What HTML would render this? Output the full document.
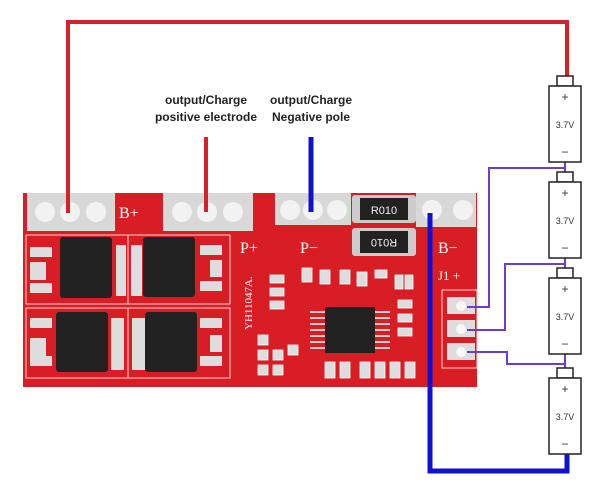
<!DOCTYPE html><html><head><style>body{margin:0;background:#fff}svg{display:block}</style></head><body>
<svg width="600" height="494" viewBox="0 0 600 494" xmlns="http://www.w3.org/2000/svg" font-family="Liberation Sans, sans-serif">
<polyline points="68,213 68,22 567,22 567,78" fill="none" stroke="#d8202a" stroke-width="4"/>
<polyline points="430,390 430,471 567,471 567,454" fill="none" stroke="#1010d0" stroke-width="5"/>
<line x1="206" y1="137" x2="206" y2="212" stroke="#d8202a" stroke-width="4"/>
<line x1="311" y1="137" x2="311" y2="212" stroke="#1010d0" stroke-width="5"/>
<text x="206" y="104" font-size="12" font-weight="bold" text-anchor="middle" fill="#222">output/Charge</text>
<text x="206" y="121" font-size="12" font-weight="bold" text-anchor="middle" fill="#222">positive electrode</text>
<text x="311" y="104" font-size="12" font-weight="bold" text-anchor="middle" fill="#222">output/Charge</text>
<text x="311" y="121" font-size="12" font-weight="bold" text-anchor="middle" fill="#222">Negative pole</text>
<rect x="23" y="193" width="454" height="194" fill="#d81e24"/>
<g fill="#d8d8d8">
<rect x="27" y="193" width="88" height="38"/><rect x="163" y="193" width="90" height="38"/><rect x="275" y="193" width="76" height="32"/><rect x="416" y="193" width="60" height="34"/>
</g>
<g fill="#f2f2f2">
<circle cx="45" cy="212" r="10"/><circle cx="70" cy="212" r="10"/><circle cx="96" cy="212" r="10"/>
<circle cx="182" cy="212" r="10"/><circle cx="207" cy="212" r="10"/><circle cx="233" cy="212" r="10"/>
<circle cx="290" cy="210" r="10"/><circle cx="313" cy="210" r="10"/><circle cx="337" cy="210" r="10"/>
<circle cx="432" cy="210" r="10"/><circle cx="463" cy="210" r="10"/>
</g>
<line x1="68" y1="193" x2="68" y2="213" stroke="#d8202a" stroke-width="4"/>
<line x1="206" y1="193" x2="206" y2="212" stroke="#d8202a" stroke-width="4"/>
<line x1="311" y1="193" x2="311" y2="212" stroke="#1010d0" stroke-width="5"/>
<rect x="352" y="195" width="64" height="28" rx="3" fill="#ccc"/><rect x="360" y="198" width="48" height="22" fill="#222"/>
<text x="384" y="214" font-size="11" fill="#eee" text-anchor="middle">R010</text>
<rect x="352" y="228" width="64" height="28" rx="3" fill="#ccc"/><rect x="360" y="231" width="48" height="22" fill="#222"/>
<text x="384" y="247" font-size="11" fill="#eee" text-anchor="middle" transform="rotate(180 384 243)">R010</text>
<g font-family="Liberation Serif, serif" font-size="16" fill="#fff">
<text x="119" y="218">B+</text><text x="240" y="253">P+</text><text x="300" y="253">P−</text><text x="438" y="253">B−</text><text x="438" y="280" font-size="13">J1 +</text>
</g>
<text x="252" y="330" font-size="11" fill="#fff" font-family="Liberation Serif, serif" transform="rotate(-90 252 330)">YH11047A.</text>
<g stroke="#f3d0d0" fill="none" stroke-width="1">
<rect x="26" y="235" width="102" height="69"/><rect x="128" y="235" width="102" height="69"/>
<rect x="26" y="308" width="102" height="70"/><rect x="128" y="308" width="102" height="70"/>
</g>
<g fill="#222"><rect x="60" y="237" width="52" height="61" rx="3"/><rect x="143" y="237" width="52" height="60" rx="3"/>
<rect x="56" y="312" width="52" height="60" rx="3"/><rect x="145" y="312" width="52" height="60" rx="3"/></g>
<g fill="#ddd"><rect x="116" y="245" width="10" height="51"/><rect x="131" y="245" width="11" height="51"/>
<rect x="111" y="318" width="13" height="52"/><rect x="132" y="318" width="13" height="52"/>
<rect x="30" y="247" width="22" height="10"/><rect x="30" y="283" width="22" height="10"/><rect x="200" y="245" width="22" height="10"/><rect x="200" y="281" width="22" height="10"/>
<rect x="30" y="318" width="22" height="10"/><rect x="30" y="356" width="22" height="10"/><rect x="200" y="318" width="22" height="10"/><rect x="200" y="356" width="22" height="10"/>
<rect x="30" y="262" width="16" height="18"/><rect x="30" y="338" width="16" height="18"/><rect x="210" y="260" width="12" height="17"/><rect x="210" y="335" width="12" height="17"/></g>
<rect x="325" y="307" width="50" height="46" fill="#222"/>
<g stroke="#ccc" stroke-width="2">
<line x1="310" y1="312" x2="325" y2="312"/><line x1="310" y1="318" x2="325" y2="318"/><line x1="310" y1="324" x2="325" y2="324"/><line x1="310" y1="330" x2="325" y2="330"/><line x1="310" y1="336" x2="325" y2="336"/><line x1="310" y1="342" x2="325" y2="342"/><line x1="310" y1="348" x2="325" y2="348"/>
<line x1="375" y1="312" x2="390" y2="312"/><line x1="375" y1="318" x2="390" y2="318"/><line x1="375" y1="324" x2="390" y2="324"/><line x1="375" y1="330" x2="390" y2="330"/><line x1="375" y1="336" x2="390" y2="336"/><line x1="375" y1="342" x2="390" y2="342"/><line x1="375" y1="348" x2="390" y2="348"/>
</g>
<g fill="#ddd" stroke="#fff" stroke-width="0.8">
<rect x="270" y="275" width="14" height="8"/><rect x="270" y="288" width="14" height="8"/><rect x="270" y="301" width="14" height="8"/>
<rect x="302" y="268" width="10" height="14"/><rect x="320" y="270" width="10" height="14"/><rect x="340" y="270" width="10" height="14"/><rect x="357" y="272" width="10" height="14"/><rect x="375" y="270" width="12" height="8"/>
<rect x="395" y="275" width="8" height="14"/><rect x="405" y="275" width="8" height="14"/>
<rect x="398" y="300" width="14" height="8"/><rect x="398" y="314" width="14" height="8"/><rect x="398" y="328" width="14" height="8"/>
<rect x="258" y="335" width="10" height="10"/><rect x="258" y="350" width="10" height="10"/><rect x="258" y="365" width="10" height="10"/><rect x="273" y="350" width="10" height="10"/><rect x="273" y="365" width="10" height="10"/><rect x="288" y="345" width="10" height="10"/>
<rect x="325" y="362" width="10" height="16"/><rect x="340" y="362" width="10" height="16"/><rect x="360" y="362" width="10" height="16"/><rect x="375" y="362" width="10" height="16"/><rect x="390" y="362" width="10" height="16"/><rect x="405" y="362" width="10" height="16"/>
</g>
<rect x="442" y="290" width="35" height="78" fill="none" stroke="#f3d0d0"/>
<g fill="#ddd"><rect x="447" y="297" width="28" height="17"/><rect x="447" y="320" width="28" height="17"/><rect x="447" y="343" width="28" height="17"/></g>
<g fill="#f6f6f6"><circle cx="461" cy="306" r="5"/><circle cx="461" cy="329" r="5"/><circle cx="461" cy="352" r="5"/></g>
<line x1="430" y1="213" x2="430" y2="471" stroke="#1010d0" stroke-width="5"/>
<g fill="none" stroke="#6a3cd0" stroke-width="2">
<polyline points="565,168 489,168 489,307 467,307"/>
<polyline points="565,264 505,264 505,330 467,330"/>
<polyline points="565,364 507,364 507,352 467,352"/>
<line x1="565" y1="162" x2="565" y2="176"/><line x1="565" y1="258" x2="565" y2="272"/><line x1="565" y1="354" x2="565" y2="372"/>
</g>
<g fill="#fff" stroke="#222" stroke-width="1.5">
<rect x="557" y="76" width="16" height="10"/><rect x="549" y="86" width="32" height="76"/>
<rect x="557" y="172" width="16" height="10"/><rect x="549" y="182" width="32" height="76"/>
<rect x="557" y="268" width="16" height="10"/><rect x="549" y="278" width="32" height="76"/>
<rect x="557" y="368" width="16" height="10"/><rect x="549" y="378" width="32" height="76"/>
</g>
<g font-size="9" fill="#333" text-anchor="middle">
<text x="565" y="101" font-size="12">+</text><text x="565" y="128">3.7V</text><text x="565" y="156" font-size="12">−</text>
<text x="565" y="197" font-size="12">+</text><text x="565" y="224">3.7V</text><text x="565" y="252" font-size="12">−</text>
<text x="565" y="293" font-size="12">+</text><text x="565" y="320">3.7V</text><text x="565" y="348" font-size="12">−</text>
<text x="565" y="393" font-size="12">+</text><text x="565" y="420">3.7V</text><text x="565" y="448" font-size="12">−</text>
</g>
</svg></body></html>
